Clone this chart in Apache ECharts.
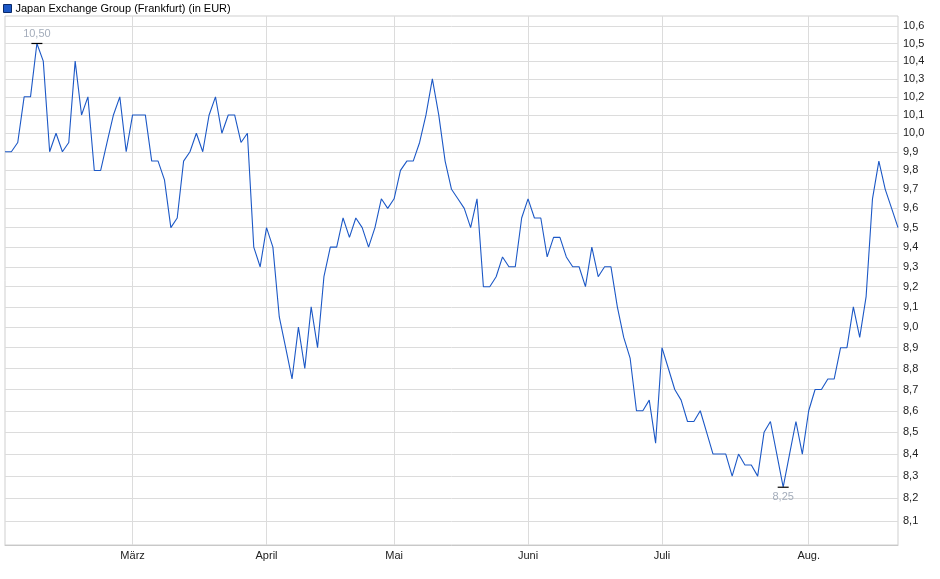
<!DOCTYPE html>
<html>
<head>
<meta charset="utf-8">
<script src="https://cdn.jsdelivr.net/npm/echarts@6/dist/echarts.min.js"></script>
<style>
  html, body { margin: 0; padding: 0; background: #fff; }
  #chart { width: 940px; height: 579px; }
</style>
</head>
<body>
<div id="chart"></div>
<script>
// ---- Data ----
const seriesName = 'Japan Exchange Group (Frankfurt) (in EUR)';
const firstDay = '2025-02-03';
const lastDay = '2025-08-21';
const holidays = ['2025-04-18', '2025-04-21', '2025-05-01'];

const prices = [
  9.9, 9.9, 9.95, 10.2, 10.2, 10.5, 10.4, 9.9, 10.0, 9.9,
  9.95, 10.4, 10.1, 10.2, 9.8, 9.8, 9.95, 10.1, 10.2, 9.9,
  10.1, 10.1, 10.1, 9.85, 9.85, 9.75, 9.5, 9.55, 9.85, 9.9,
  10.0, 9.9, 10.1, 10.2, 10.0, 10.1, 10.1, 9.95, 10.0, 9.4,
  9.3, 9.5, 9.4, 9.05, 8.9, 8.75, 9.0, 8.8, 9.1, 8.9,
  9.25, 9.4, 9.4, 9.55, 9.45, 9.55, 9.5, 9.4, 9.5, 9.65,
  9.6, 9.65, 9.8, 9.85, 9.85, 9.95, 10.1, 10.3, 10.1, 9.85,
  9.7, 9.65, 9.6, 9.5, 9.65, 9.2, 9.2, 9.25, 9.35, 9.3,
  9.3, 9.55, 9.65, 9.55, 9.55, 9.35, 9.45, 9.45, 9.35, 9.3,
  9.3, 9.2, 9.4, 9.25, 9.3, 9.3, 9.1, 8.95, 8.85, 8.6,
  8.6, 8.65, 8.45, 8.9, 8.8, 8.7, 8.65, 8.55, 8.55, 8.6,
  8.5, 8.4, 8.4, 8.4, 8.3, 8.4, 8.35, 8.35, 8.3, 8.5,
  8.55, 8.4, 8.25, 8.4, 8.55, 8.4, 8.6, 8.7, 8.7, 8.75,
  8.75, 8.9, 8.9, 9.1, 8.95, 9.15, 9.65, 9.85, 9.7, 9.6,
  9.5
];

const monthTickDates = ['2025-03-03', '2025-04-01', '2025-05-02', '2025-06-02', '2025-07-01', '2025-08-01'];
const monthLabels = ['März', 'April', 'Mai', 'Juni', 'Juli', 'Aug.'];

const yTicks = [8.1, 8.2, 8.3, 8.4, 8.5, 8.6, 8.7, 8.8, 8.9, 9.0, 9.1, 9.2, 9.3,
  9.4, 9.5, 9.6, 9.7, 9.8, 9.9, 10.0, 10.1, 10.2, 10.3, 10.4, 10.5, 10.6];

// trading-day categories (weekdays without exchange holidays)
function tradingDays(from, to, skip) {
  const out = [];
  const d = new Date(from + 'T12:00:00Z');
  const end = new Date(to + 'T12:00:00Z');
  while (d <= end) {
    const wd = d.getUTCDay();
    const s = d.toISOString().slice(0, 10);
    if (wd !== 0 && wd !== 6 && skip.indexOf(s) < 0) out.push(s);
    d.setUTCDate(d.getUTCDate() + 1);
  }
  return out;
}
const dates = tradingDays(firstDay, lastDay, holidays);

// logarithmic price scale: plot the natural log on a linear axis
const logPrices = prices.map(v => Math.log(v));
const logTicks = yTicks.map(v => Math.log(v));
const fmt = (v, d) => v.toFixed(d).replace('.', ',');

const FONT = "Arial, 'Liberation Sans', sans-serif";
const isMonth = (idx, val) => monthTickDates.indexOf(val) >= 0;

const chart = echarts.init(document.getElementById('chart'), null, { renderer: 'canvas' });
chart.setOption({
  animation: false,
  backgroundColor: '#ffffff',
  textStyle: { fontFamily: FONT },
  legend: {
    left: 1, top: 1,
    icon: 'rect', itemWidth: 8, itemHeight: 8, itemGap: 10,
    padding: [2, 2, 2, 2],
    textStyle: { fontSize: 11, color: '#000', fontFamily: FONT, padding: [0, 0, 0, -1] },
    itemStyle: { borderColor: '#0a2a6a', borderWidth: 1 },
    data: [seriesName]
  },
  grid: {
    left: 5, right: 42, top: 16, bottom: 34,
    containLabel: false, outerBoundsMode: 'none',
    show: true, borderColor: '#cfcfcf', borderWidth: 1
  },
  xAxis: {
    type: 'category',
    data: dates,
    boundaryGap: false,
    axisLine: { show: true, lineStyle: { color: '#c8c8c8' } },
    axisTick: { show: false },
    axisLabel: {
      interval: isMonth,
      formatter: v => monthLabels[monthTickDates.indexOf(v)] || '',
      fontSize: 11, color: '#222', margin: 5, fontFamily: FONT
    },
    splitLine: { show: true, interval: isMonth, lineStyle: { color: '#dcdcdc', width: 1 } }
  },
  yAxis: {
    type: 'value',
    position: 'right',
    min: Math.log(7.995),
    max: Math.log(10.658),
    axisLine: { show: false },
    axisTick: { show: false, customValues: logTicks },
    axisLabel: {
      customValues: logTicks,
      formatter: v => fmt(Math.exp(v), 1),
      fontSize: 11, color: '#222', margin: 5, fontFamily: FONT
    },
    splitLine: { show: true, lineStyle: { color: '#dcdcdc', width: 1 } }
  },
  series: [{
    name: seriesName,
    type: 'line',
    data: logPrices,
    showSymbol: false,
    symbol: 'none',
    color: '#1c58c6',
    lineStyle: { color: '#1c58c6', width: 1.1 },
    itemStyle: { color: '#1c58c6' },
    markPoint: {
      symbol: 'rect',
      symbolSize: [11, 1.2],
      itemStyle: { color: '#000' },
      label: { fontSize: 11, color: '#a4adbb', fontFamily: FONT, formatter: p => fmt(Math.exp(p.value), 2) },
      data: [
        { type: 'max', label: { position: 'top', distance: 3 } },
        { type: 'min', label: { position: 'bottom', distance: 4 } }
      ]
    }
  }]
});
</script>
</body>
</html>
